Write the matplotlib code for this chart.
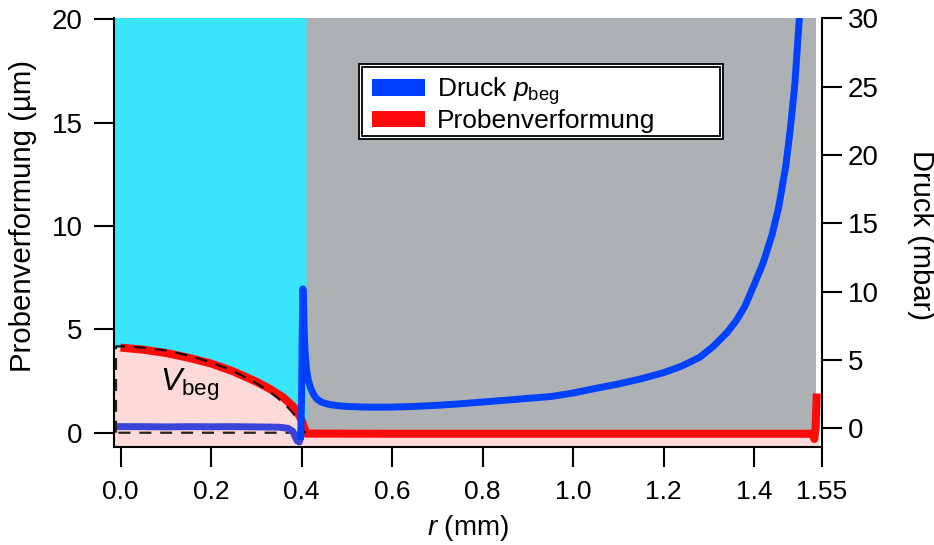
import matplotlib
matplotlib.use("Agg")
import matplotlib.pyplot as plt
from matplotlib.patches import Rectangle, Patch

plt.rcParams['font.family'] = ['Liberation Sans', 'DejaVu Sans']
plt.rcParams['mathtext.fontset'] = 'custom'
plt.rcParams['mathtext.rm'] = 'Liberation Sans'
plt.rcParams['mathtext.it'] = 'Liberation Sans:italic'
plt.rcParams['mathtext.bf'] = 'Liberation Sans:bold'

# ---- data -------------------------------------------------------------
# measured sample deformation (µm) versus radius (mm)
r_def = [0.0, 0.05, 0.10, 0.15, 0.20, 0.25, 0.30, 0.33, 0.36, 0.38, 0.39,
         0.40, 0.405, 0.41, 0.60, 0.80, 1.00, 1.20, 1.40, 1.525, 1.530,
         1.533, 1.536, 1.5385]
z_def = [4.12, 4.02, 3.86, 3.63, 3.35, 2.96, 2.47, 2.12, 1.70, 1.30, 1.02,
         0.62, 0.30, -0.04, -0.05, -0.05, -0.05, -0.05, -0.05, -0.05, -0.10,
         -0.30, 0.30, 1.90]

# model deformation outline (dashed)
r_model = [-0.010, -0.010, 0.005, 0.05, 0.10, 0.15, 0.20, 0.25, 0.30, 0.33,
           0.36, 0.38, 0.39, 0.40, 0.405, 0.41, -0.010]
z_model = [0.0, 4.18, 4.18, 4.12, 3.98, 3.74, 3.40, 2.98, 2.40, 1.98, 1.45,
           0.98, 0.68, 0.30, 0.05, 0.0, 0.0]

# pressure inside the contact zone (mbar)
r_p_in = [0.0, 0.05, 0.10, 0.15, 0.20, 0.25, 0.30, 0.35, 0.37, 0.38, 0.39,
          0.395, 0.398]
p_in = [0.12, 0.12, 0.10, 0.12, 0.11, 0.12, 0.10, 0.08, 0.0, -0.2, -0.9,
        -1.0, -0.6]

# pressure outside the contact zone (mbar)
r_p_out = [0.398, 0.400, 0.4015, 0.403, 0.4045, 0.406, 0.408, 0.411, 0.415,
           0.420, 0.427, 0.435, 0.445, 0.46, 0.48, 0.50, 0.53, 0.56, 0.60,
           0.65, 0.70, 0.75, 0.80, 0.85, 0.90, 0.95, 1.00, 1.05, 1.10, 1.15,
           1.20, 1.24, 1.28, 1.31, 1.34, 1.36, 1.38, 1.40, 1.42, 1.44, 1.455,
           1.47, 1.48, 1.49, 1.50, 1.51]
p_out = [-0.6, 2.0, 7.0, 10.2, 9.0, 7.0, 5.5, 4.3, 3.5, 2.95, 2.45, 2.10,
         1.90, 1.75, 1.65, 1.60, 1.56, 1.54, 1.55, 1.60, 1.68, 1.79, 1.92,
         2.05, 2.19, 2.32, 2.58, 2.92, 3.24, 3.62, 4.07, 4.55, 5.20, 6.00,
         7.00, 7.85, 8.95, 10.5, 12.1, 14.2, 16.3, 19.2, 21.9, 25.2, 30.0,
         36.0]

# region limits (mm)
r_contact = 0.41
r_gap_end = 1.537
r_sample_end = 1.542

x_ticks = [0.0, 0.2, 0.4, 0.6, 0.8, 1.0, 1.2, 1.4, 1.55]
x_ticklabels = ['0.0', '0.2', '0.4', '0.6', '0.8', '1.0', '1.2', '1.4', '1.55']
y_ticks = [0, 5, 10, 15, 20]
y2_ticks = [0, 5, 10, 15, 20, 25, 30]

# ---- colours ----------------------------------------------------------
c_cyan = '#38E5FA'
c_gray = '#AEB1B4'
c_pink = '#FDDADA'
c_red = '#FF0A0A'
c_blue = '#0041FF'
c_blue_in = '#3A44D8'

W, H = 934, 545
fig = plt.figure(figsize=(W / 100, H / 100), dpi=100)
L, R, T, B = 114, 822, 17.5, 447
ax = fig.add_axes([L / W, 1 - B / H, (R - L) / W, (B - T) / H])
ax2 = ax.twinx()

xlim = (-0.0144, 1.55)
ax.set_xlim(*xlim)
ax.set_ylim(-0.69, 20.09)
ylo, yhi = ax.get_ylim()

# background regions
ax.axvspan(r_contact, r_gap_end, color=c_gray, lw=0, zorder=0)
n_in = sum(1 for r in r_def if r <= r_contact)
r_in = [xlim[0]] + r_def[:n_in]
z_in = [z_def[0]] + z_def[:n_in]
ax.fill_between(r_in, z_in, yhi, color=c_cyan, lw=0, zorder=0.5)
ax.fill_between([xlim[0]] + r_def + [r_sample_end], ylo,
                [z_def[0]] + z_def + [0.0], color=c_pink, lw=0, zorder=1)

# deformation and model outline
ax.plot(r_def, z_def, color=c_red, lw=5.8, solid_capstyle='butt', zorder=3)
ax.plot(r_model, z_model, color='black', lw=1.6, ls=(0, (5.4, 4)),
        alpha=0.85, zorder=4, clip_on=False)

ax.text(0.087, 2.3, r'$V_{\mathrm{beg}}$', fontsize=23, ha='left',
        va='center', zorder=5)

# pressure
ax2.plot(r_p_in, p_in, color=c_blue_in, lw=5.0, zorder=3)
ax2.plot(r_p_out, p_out, color=c_blue, lw=5.0, zorder=3)
ax2.set_ylim(-1.37, 30.06)

# axes styling
for a in (ax, ax2):
    a.spines['top'].set_visible(False)
    for s in a.spines.values():
        s.set_linewidth(1.5)
ax.spines['right'].set_visible(False)
ax2.spines['left'].set_visible(False)
ax2.spines['bottom'].set_visible(False)

ax.set_xticks(x_ticks)
ax.set_xticklabels(x_ticklabels)
ax.set_yticks(y_ticks)
ax2.set_yticks(y2_ticks)
ax.tick_params(axis='both', direction='out', length=14.5, width=1.5,
               labelsize=20)
ax.tick_params(axis='x', pad=9, labelsize=19)
ax.tick_params(axis='y', pad=8)
ax2.tick_params(axis='y', direction='out', length=14.5, width=1.5,
                labelsize=20, pad=4)

ax.set_xlabel(r'$r$ (mm)', fontsize=20)
ax.xaxis.set_label_coords(0.5, -0.189)
ax.xaxis.label.set_va('center')
ax.set_ylabel('Probenverformung (µm)', fontsize=21.2)
ax.yaxis.label.set_va('center')
ax.yaxis.set_label_coords(-0.128, 0.537)
ax2.set_ylabel('Druck (mbar)', fontsize=21)
ax2.yaxis.label.set_rotation(270)
ax2.yaxis.label.set_va('center')
ax2.yaxis.set_label_coords(1.14, 0.494)

# legend with double frame
bx0, by0, bx1, by1 = 359, 64, 723, 139
fig.patches.append(Rectangle((bx0 / W, 1 - by1 / H), (bx1 - bx0) / W,
                             (by1 - by0) / H, transform=fig.transFigure,
                             facecolor='white', edgecolor='black', lw=1.3,
                             zorder=10))
g = 2.6
fig.patches.append(Rectangle(((bx0 + g) / W, 1 - (by1 - g) / H),
                             (bx1 - bx0 - 2 * g) / W,
                             (by1 - by0 - 2 * g) / H,
                             transform=fig.transFigure, facecolor='none',
                             edgecolor='black', lw=1.3, zorder=10))
handles = [Patch(facecolor=c_blue, edgecolor='none'),
           Patch(facecolor=c_red, edgecolor='none')]
em = 19 * 100 / 72
leg = fig.legend(handles, [r'Druck $p_{\mathrm{beg}}$', 'Probenverformung'],
                 loc='upper left', bbox_to_anchor=(372 / W, 1 - 75 / H),
                 frameon=False, fontsize=19, borderpad=0, borderaxespad=0,
                 handlelength=53 / em, handleheight=16 / em,
                 handletextpad=12 / em, labelspacing=0.1)
leg.set_zorder(11)

fig.savefig('out.png', dpi=100)
